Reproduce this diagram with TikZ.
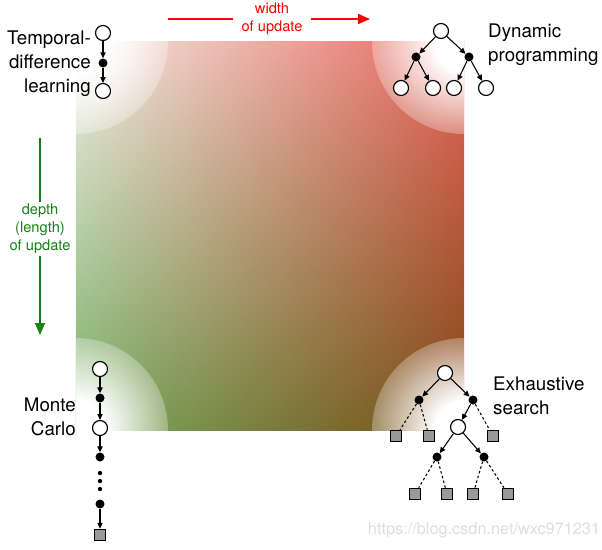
\documentclass[tikz,border=0pt]{standalone}
\usepackage{fontspec}
\setmainfont{TeX Gyre Heros}
\usetikzlibrary{arrows.meta,fadings}
\definecolor{cornerTL}{RGB}{242,238,230}
\definecolor{cornerTR}{RGB}{232,100,92}
\definecolor{cornerBL}{RGB}{118,175,100}
\definecolor{cornerBR}{RGB}{125,74,20}
\definecolor{widthred}{RGB}{255,0,0}
\definecolor{depthgreen}{RGB}{20,130,20}
\definecolor{leafgray}{RGB}{153,153,153}
\tikzfading[name=fadedown, top color=transparent!100, bottom color=transparent!0]
\pgfdeclareradialshading{cornershade}{\pgfpoint{0bp}{0bp}}{%
  rgb(0bp)=(1,1,1); rgb(8bp)=(1,1,1); rgb(25bp)=(0.28,0.28,0.28);
  rgb(50bp)=(0.28,0.28,0.28)}
\pgfdeclarefading{cornerfade}{\pgfuseshading{cornershade}}

\begin{document}
\begin{tikzpicture}[x=0.3mm, y=-0.3mm,
    state/.style={circle, draw, line width=1pt, fill=white, minimum size=4.5mm,
                  inner sep=0pt},
    act/.style={circle, fill=black, minimum size=2.7mm, inner sep=0pt},
    term/.style={rectangle, draw, line width=0.8pt, fill=leafgray,
                 minimum size=3.5mm, inner sep=0pt},
    bk/.style={line width=0.9pt, -{Triangle[length=5pt,width=4.5pt]}},
    sk/.style={line width=0.9pt, dash pattern=on 2.2pt off 2pt},
    lbl/.style={font=\fontsize{16}{20.5}\selectfont, inner sep=0pt},
    axlbl/.style={font=\fontsize{12.5}{15.2}\selectfont, align=center,
                  inner xsep=7pt, inner ysep=1.5pt}]
    \useasboundingbox (0,0) rectangle (602,549);

    % colour square: width left to right, depth top to bottom
    \shade[left color=cornerTL, right color=cornerTR] (76,42) rectangle (464,430);
    \shade[left color=cornerBL, right color=cornerBR, path fading=fadedown]
      (76,42) rectangle (464,430);

    % white corners
    \begin{scope}
      \clip (76,42) rectangle (464,430);
      \foreach \cx/\cy in {76/42,464/42,76/430,464/430}
        \fill[white, path fading=cornerfade] (\cx,\cy) circle (27.6mm);
    \end{scope}

    % Width axis
    \node[axlbl, text=widthred] (wtxt) at (272,19) {width\\of update};
    \coordinate (wl) at (168,19);
    \coordinate (wr) at (370,19);
    \draw[widthred, line width=1.4pt] (wl) -- (wtxt);
    \draw[widthred, line width=1.4pt, -{Triangle[length=3.6mm,width=3mm]}] (wtxt) -- (wr);

    % Depth axis
    \node[axlbl, text=depthgreen] (dtxt) at (40,229) {depth\\(length)\\of update};
    \coordinate (dt) at (40,138);
    \coordinate (db) at (40,335);
    \draw[depthgreen, line width=1.4pt] (dt) -- (dtxt);
    \draw[depthgreen, line width=1.4pt, -{Triangle[length=3.6mm,width=3mm]}] (dtxt) -- (db);

    % Temporal-difference backup
    \node[state] (td0) at (103,33) {};
    \node[act]   (td1) at (103,63) {};
    \node[state] (td2) at (103,91) {};
    \draw[bk] (td0) -- (td1);
    \draw[bk] (td1) -- (td2);
    \node[lbl, anchor=east, align=right] (tdlbl) at (91,64)
      {Temporal-\\difference\\learning};

    % Dynamic programming backup
    \node[state] (dp)  at (441,31) {};
    \node[act]   (dpa) at (416,57) {};
    \node[act]   (dpb) at (469,57) {};
    \node[state] (dp1) at (401,88) {};
    \node[state] (dp2) at (433,88) {};
    \node[state] (dp3) at (454,88) {};
    \node[state] (dp4) at (486,88) {};
    \draw[bk] (dp) -- (dpa);
    \draw[bk] (dp) -- (dpb);
    \draw[bk] (dpa) -- (dp1);
    \draw[bk] (dpa) -- (dp2);
    \draw[bk] (dpb) -- (dp3);
    \draw[bk] (dpb) -- (dp4);
    \node[lbl, anchor=west, align=left] (dplbl) at (488,45)
      {Dynamic\\programming};

    % Monte Carlo backup
    \node[state] (mc0) at (100,369) {};
    \node[act]   (mc1) at (100,398) {};
    \node[state] (mc2) at (100,428) {};
    \node[act]   (mc3) at (100,457) {};
    \node[act]   (mc4) at (100,504) {};
    \node[term]  (mcT) at (100,535) {};
    \draw[bk] (mc0) -- (mc1);
    \draw[bk] (mc1) -- (mc2);
    \draw[bk] (mc2) -- (mc3);
    \draw[bk] (mc4) -- (mcT);
    \foreach \dy in {473,481,489}
      \fill (100,\dy) circle (0.65mm);
    \node[lbl, anchor=east, align=right] (mclbl) at (76,417) {Monte\\Carlo};

    % Exhaustive search
    \node[state] (es)   at (445,373) {};
    \node[act]   (esa)  at (419,400) {};
    \node[act]   (esb)  at (473,400) {};
    \node[term]  (esT1) at (396,436) {};
    \node[term]  (esT2) at (429,436) {};
    \node[state] (esc)  at (458,427) {};
    \node[term]  (esT3) at (493,436) {};
    \node[act]   (esd)  at (437,457) {};
    \node[act]   (ese)  at (484,457) {};
    \node[term]  (esT4) at (415,494) {};
    \node[term]  (esT5) at (447,494) {};
    \node[term]  (esT6) at (473,494) {};
    \node[term]  (esT7) at (508,494) {};
    \draw[bk] (es) -- (esa);
    \draw[bk] (es) -- (esb);
    \draw[bk] (esb) -- (esc);
    \draw[bk] (esc) -- (esd);
    \draw[bk] (esc) -- (ese);
    \draw[sk] (esa) -- (esT1);
    \draw[sk] (esa) -- (esT2);
    \draw[sk] (esb) -- (esT3);
    \draw[sk] (esd) -- (esT4);
    \draw[sk] (esd) -- (esT5);
    \draw[sk] (ese) -- (esT6);
    \draw[sk] (ese) -- (esT7);
    \node[lbl, anchor=west, align=left] (eslbl) at (493,396)
      {Exhaustive\\search};

    % watermark
    \node[font=\fontsize{13.9}{16}\selectfont, text=black!13] (wm) at (484,530)
      {https://blog.csdn.net/wxc971231};
\end{tikzpicture}
\end{document}
